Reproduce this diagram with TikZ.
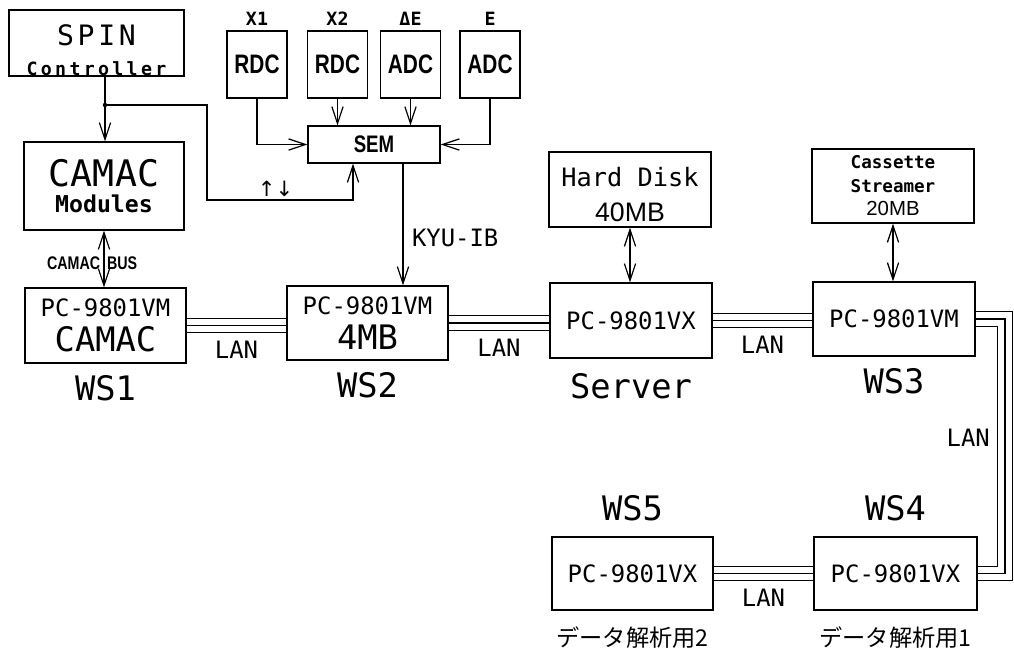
\documentclass[tikz,border=0pt]{standalone}
\usepackage{fontspec}
\usetikzlibrary{positioning,arrows.meta,calc}
\newfontfamily\monofont{DejaVu Sans Mono}
\newfontfamily\narrowfont[FakeStretch=0.78]{Liberation Sans}
\newfontfamily\gothicfont{Liberation Sans}
\newfontfamily\symfont{DejaVu Sans}
\newfontfamily\jpfont{Noto Sans CJK JP}
\begin{document}
\begin{tikzpicture}[x=0.025cm, y=-0.025cm,
    box/.style={rectangle, draw=black, line width=1pt, inner sep=0pt, align=center},
    wh/.style 2 args={minimum width=#1*0.025cm, minimum height=#2*0.025cm},
    adcbox/.style={box, wh={60}{67}, font=\fontsize{19pt}{20pt}\narrowfont\bfseries},
    pcbox/.style={box, font=\fontsize{17pt}{24.8pt}\monofont},
    tag/.style={inner sep=0pt, font=\fontsize{13pt}{13pt}\monofont\bfseries},
    buslbl/.style={inner sep=0pt, font=\fontsize{13pt}{13pt}\narrowfont\bfseries},
    wslbl/.style={inner sep=0pt, font=\fontsize{24pt}{24pt}\monofont},
    lanlbl/.style={inner sep=0pt, font=\fontsize{17pt}{17pt}\monofont},
    jplbl/.style={inner sep=0pt, font=\fontsize{16.5pt}{16.5pt}\jpfont},
    arr/.style={-{Straight Barb[length=4.2mm,width=2.8mm]}, line width=0.85pt},
    dblarr/.style={{Straight Barb[length=4.2mm,width=2.8mm]}-{Straight Barb[length=4.2mm,width=2.8mm]}, line width=0.85pt},
    lan/.style={double, double distance=9.6pt, line width=0.8pt},
    lanmid/.style={line width=0.8pt}
  ]
  \useasboundingbox (0,0) rectangle (1014,647);

  % front end
  \node[box, wh={175}{66}, font=\fontsize{10pt}{21.3pt}\selectfont] (spin) at (96.5,43)
    {\rule{0pt}{25pt}{\fontsize{20pt}{20pt}\monofont\addfontfeature{LetterSpace=13}SPIN}\\{\fontsize{13pt}{13pt}\monofont\bfseries\addfontfeature{LetterSpace=18}Controller}};
  \node[box, wh={160}{88}, font=\fontsize{10pt}{18.4pt}\selectfont] (camac) at (104,186)
    {{\fontsize{26pt}{26pt}\monofont CAMAC}\\{\fontsize{16.5pt}{17pt}\monofont\bfseries Modules}};
  \node[adcbox] (rdc1) at (257,64.5) {RDC};
  \node[adcbox] (rdc2) at (337.5,64.5) {RDC};
  \node[adcbox] (adc1) at (410.5,64.5) {ADC};
  \node[adcbox] (adc2) at (490,64.5) {ADC};
  \node[tag, above=3pt of rdc1] (tx1) {X1};
  \node[tag, above=3pt of rdc2] (tx2) {X2};
  \node[tag, above=3pt of adc1] (tde) {ΔE};
  \node[tag, above=3pt of adc2] (te) {E};
  \node[box, wh={132}{37}, font=\fontsize{17pt}{17pt}\narrowfont\bfseries] (sem) at (374,144.5) {SEM};

  % work stations
  \node[pcbox, wh={161}{75}] (ws1) at (105.5,325.5) {PC-9801VM\\{\fontsize{24pt}{24pt}\monofont CAMAC}};
  \node[pcbox, wh={161}{74}] (ws2) at (367.5,323) {PC-9801VM\\{\fontsize{24pt}{24pt}\monofont 4MB}};
  \node[pcbox, wh={162}{75}] (srv) at (631,320.5) {PC-9801VX};
  \node[pcbox, wh={162}{74}] (ws3) at (894,319) {PC-9801VM};
  \node[pcbox, wh={161}{73}] (ws5) at (632.5,573.5) {PC-9801VX};
  \node[pcbox, wh={163}{73}] (ws4) at (895.5,573.5) {PC-9801VX};
  \node[box, wh={162}{75}, font=\fontsize{10pt}{24.8pt}\selectfont] (hd) at (630,189.5)
    {\rule{0pt}{21.4pt}{\fontsize{18pt}{18pt}\monofont Hard Disk}\\{\fontsize{19pt}{19pt}\gothicfont 40MB}};
  \node[box, wh={162}{74}, font=\fontsize{10pt}{16.7pt}\selectfont] (cas) at (893,186)
    {{\fontsize{12.5pt}{13pt}\monofont\bfseries Cassette}\\{\fontsize{12.5pt}{13pt}\monofont\bfseries Streamer}\\{\fontsize{14.5pt}{15pt}\gothicfont 20MB}};

  \node[wslbl, below=8.5pt of ws1] (n1) {WS1};
  \node[wslbl, below=8.5pt of ws2] (n2) {WS2};
  \node[wslbl, below=10pt of srv] (nsrv) {Server};
  \node[wslbl, below=8.5pt of ws3] (n3) {WS3};
  \node[wslbl, above=10.5pt of ws5] (n5) {WS5};
  \node[wslbl, above=10.5pt of ws4] (n4) {WS4};
  \node[jplbl, below=11pt of ws5] (jp2) {データ解析用2};
  \node[jplbl, below=11pt of ws4] (jp1) {データ解析用1};

  % signal lines
  \coordinate (jn) at (105,105);
  \coordinate (fbk) at (207,200);
  \coordinate (semin) at ($(sem.south)+(-21,0)$);
  \coordinate (semout) at ($(sem.south)+(29,0)$);
  \draw[arr] (spin.south -| jn) -- (camac.north -| jn);
  \fill (jn) circle (1.6pt);
  \draw[arr] (jn) -| (fbk) -- node[pos=0.47, above=2pt, inner sep=0pt, font=\fontsize{15pt}{15pt}\symfont] (updn) {↑↓} (fbk -| semin) -- (semin);
  \draw[arr] (rdc1.south) |- (sem.west);
  \draw[arr] (rdc2.south) -- (rdc2.south |- sem.north);
  \draw[arr] (adc1.south) -- (adc1.south |- sem.north);
  \draw[arr] (adc2.south) |- (sem.east);
  \draw[arr] (semout) -- node[lanlbl, pos=0.61, right=6pt] (kyu) {KYU-IB} (semout |- ws2.north);

  \coordinate (busc) at ($(camac.south)!0.57!(camac.south |- ws1.north)$);
  \draw[dblarr] (camac.south) -- (camac.south |- ws1.north);
  \node[buslbl, left=2.5pt of busc] (busl) {CAMAC};
  \node[buslbl, right=2pt of busc] (busr) {BUS};
  \draw[dblarr] (hd.south) -- (hd.south |- srv.north);
  \draw[dblarr] (cas.south) -- (cas.south |- ws3.north);

  % LAN
  \coordinate (lanc) at (1005,450);
  \foreach \st in {lan,lanmid} {
    \draw[\st] (ws1.east) -- (ws1.east -| ws2.west);
    \draw[\st] (ws2.east) -- (ws2.east -| srv.west);
    \draw[\st] (srv.east) -- (srv.east -| ws3.west);
    \draw[\st] (ws3.east) -| (lanc) |- (ws4.east);
    \draw[\st] (ws4.west) -- (ws4.west -| ws5.east);
  }
  \path (ws1.east) -- node[lanlbl, below=11pt] (lan1) {LAN} (ws1.east -| ws2.west);
  \path (ws2.east) -- node[lanlbl, below=11pt] (lan2) {LAN} (ws2.east -| srv.west);
  \path (srv.east) -- node[lanlbl, below=11pt] (lan3) {LAN} (srv.east -| ws3.west);
  \path (ws4.west) -- node[lanlbl, below=11pt] (lan5) {LAN} (ws4.west -| ws5.east);
  \node[lanlbl, left=10.6pt] (lan4) at ($(lanc)+(0,-12)$) {LAN};
\end{tikzpicture}
\end{document}
